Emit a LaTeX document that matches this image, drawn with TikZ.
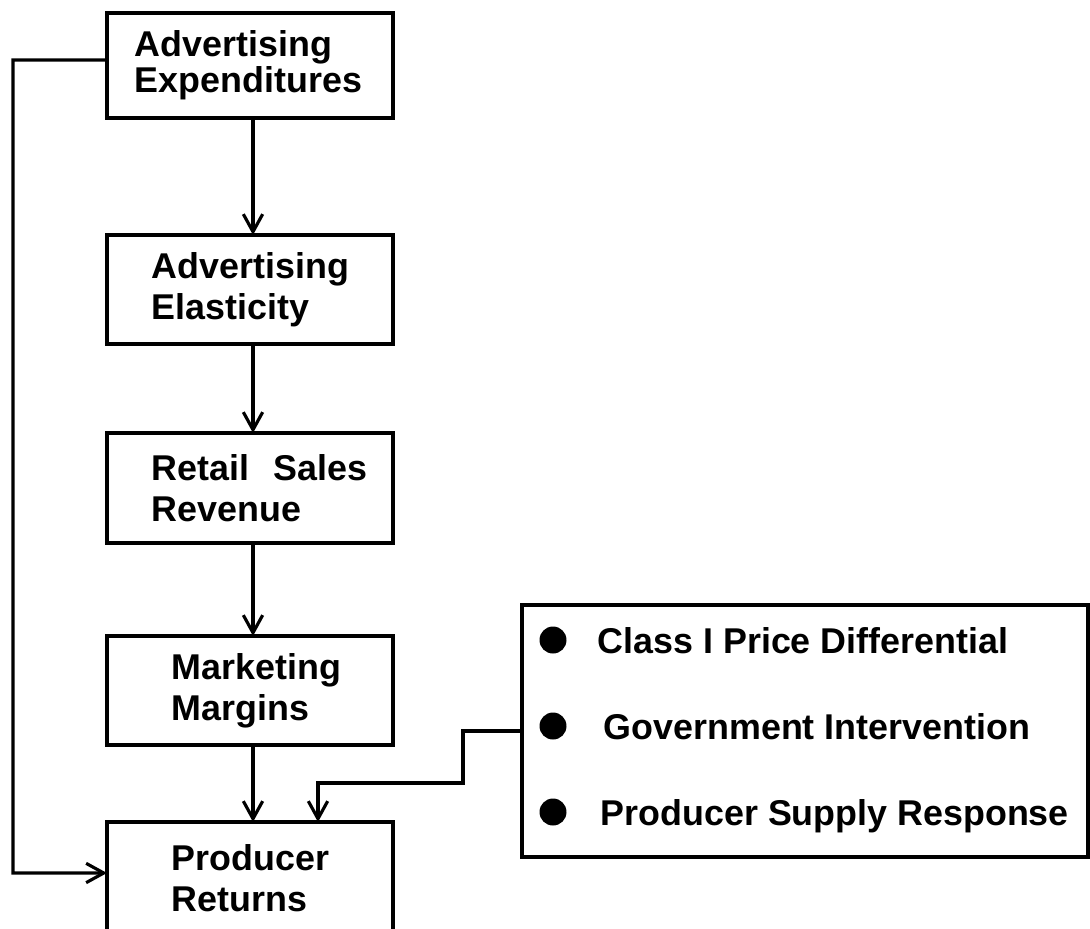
\documentclass[tikz,border=0pt]{standalone}
\usepackage{fontspec}
\setmainfont{Liberation Sans}
\usetikzlibrary{positioning, arrows.meta}
\tikzset{
  box/.style = {draw, rectangle, line width=1pt, outer sep=0pt,
    minimum width=2.86cm, text width=2.86cm, inner xsep=0pt, align=left,
    font=\fontsize{10.2}{11.7}\selectfont\bfseries},
  flow/.style = {line width=0.9pt, -{Straight Barb[length=5pt,width=5.5pt]}},
  dot/.style = {circle, fill, inner sep=0pt, minimum size=0.27cm},
  item/.style = {anchor=base west, inner sep=0pt,
    font=\fontsize{10.2}{11.7}\selectfont\bfseries}
}
\begin{document}
\begin{tikzpicture}
	  \useasboundingbox (0,0) rectangle (10.9,-9.29);
	  % chain of boxes
	  \node[box, minimum height=1.05cm] (exp) at (2.50,-0.655) {\hspace*{0.28cm}Advertising\\[-0.05cm]\hspace*{0.28cm}Expenditures};
	  \node[box, minimum height=1.09cm, below=1.17cm of exp] (elas) {\hspace*{0.45cm}Advertising\\\hspace*{0.45cm}Elasticity};
	  \node[box, minimum height=1.10cm, below=0.89cm of elas] (sales) {\hspace*{0.45cm}Retail\ \ Sales\\\hspace*{0.45cm}Revenue};
	  \node[box, minimum height=1.09cm, below=0.93cm of sales] (marg) {\hspace*{0.65cm}Marketing\\\hspace*{0.65cm}Margins};
	  \node[box, minimum height=1.12cm, below=0.77cm of marg] (prod) {\hspace*{0.65cm}Producer\\\hspace*{0.65cm}Returns};

	  % list of other factors
	  \node[draw, line width=1pt, outer sep=0pt, minimum width=5.66cm, minimum height=2.52cm] (factors) at (8.05,-7.31) {};
	  \node[dot] (d1) at (5.53,-6.40) {};
	  \node[dot] (d2) at (5.53,-7.26) {};
	  \node[dot] (d3) at (5.53,-8.12) {};
	  \node[item] (f1) at (5.97,-6.53) {Class I Price Differential};
	  \node[item] (f2) at (6.03,-7.39) {Government Intervention};
	  \node[item] (f3) at (6.00,-8.25) {Producer Supply Response};

	  \coordinate (lft) at (0.13,-8.73);
	  \coordinate (jog) at (4.63,-7.83);

	  % arrows
	  \draw[flow] ([xshift=0.03cm]exp.south) -- ([xshift=0.03cm]elas.north);
	  \draw[flow] ([xshift=0.03cm]elas.south) -- ([xshift=0.03cm]sales.north);
	  \draw[flow] ([xshift=0.03cm]sales.south) -- ([xshift=0.03cm]marg.north);
	  \draw[flow] ([xshift=0.03cm]marg.south) -- ([xshift=0.03cm]prod.north);
	  \draw[flow] (factors.west) -| (jog) -| ([xshift=0.68cm]prod.north);
	  \draw[flow] ([yshift=0.055cm]exp.west) -| (lft) -- ([yshift=0.05cm]prod.west);
	\end{tikzpicture}
\end{document}
